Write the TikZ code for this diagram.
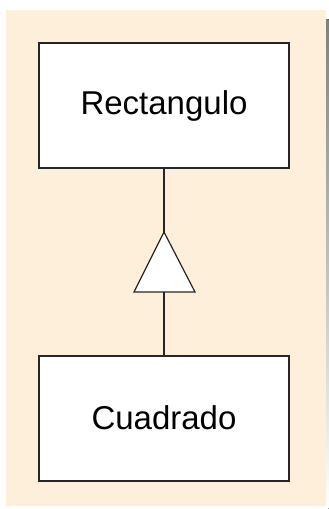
\documentclass[tikz,border=0pt]{standalone}
\usepackage{fontspec}
\setmainfont{Liberation Sans}
\definecolor{paper}{HTML}{FDEFD9}
\definecolor{shade}{HTML}{6B3A10}
\tikzset{
  classbox/.style={draw=black!85, line width=1.4pt, fill=white, minimum width=250pt, minimum height=125pt, inner sep=0pt, font=\fontsize{33}{36}\selectfont},
  link/.style={draw=black!85, line width=1.2pt},
  inherit/.style={draw=black!85, line width=1.2pt, fill=white}
}
\begin{document}
\begin{tikzpicture}[x=1pt,y=-1pt]
\useasboundingbox (0,0) rectangle (329,509);
\fill[shade] (18,19) rectangle (328.5,508.5);
\fill[paper] (6,10) rectangle (325.5,505.5);
\node[classbox] (rect) at (164,105.5) {\raisebox{1pt}{Rectangulo}};
\node[classbox] (cuad) at (164,418.5) {\raisebox{2pt}{Cuadrado}};
\coordinate (apex) at (164,232);
\coordinate (bl) at (134,292);
\coordinate (br) at (195,292);
\coordinate (basemid) at (164,292);
\draw[link] (rect.south) -- (apex);
\draw[inherit] (apex) -- (br) -- (bl) -- cycle;
\draw[link] (basemid) -- (cuad.north);
\end{tikzpicture}
\end{document}
